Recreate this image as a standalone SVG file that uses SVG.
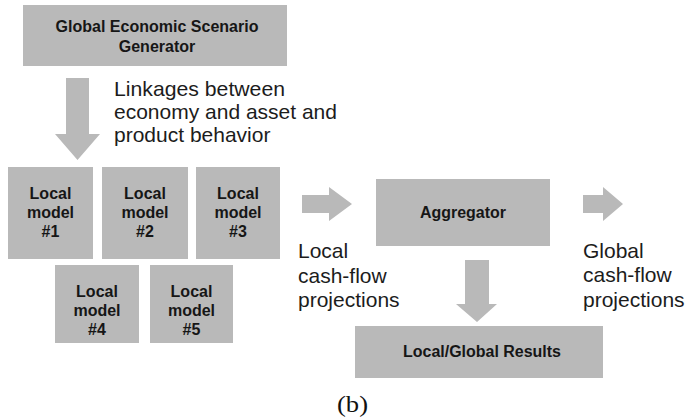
<svg xmlns="http://www.w3.org/2000/svg" width="687" height="419" viewBox="0 0 687 419">
  <style>
    .box { fill: #b9b9b9; }
    .arrow { fill: #b9b9b9; }
    .bold { font-family: "Liberation Sans", Arial, sans-serif; font-weight: bold; font-size: 16px; fill: #161616; text-anchor: middle; }
    .label { font-family: "Liberation Sans", Arial, sans-serif; font-size: 21px; fill: #1c1c1c; }
    .caption { font-family: "Liberation Serif", "Times New Roman", serif; font-size: 24px; fill: #111; }
  </style>
  <rect width="687" height="419" fill="#ffffff"/>

  <g id="generator">
    <rect class="box" x="23" y="5" width="264" height="61"/>
    <text class="bold" x="157" y="32" textLength="203" lengthAdjust="spacingAndGlyphs">Global Economic Scenario</text>
    <text class="bold" x="157" y="52">Generator</text>
  </g>

  <g id="local-model-1">
    <rect class="box" x="8" y="167" width="85" height="92"/>
    <text class="bold" x="50.5" y="199">Local</text>
    <text class="bold" x="50.5" y="218">model</text>
    <text class="bold" x="50.5" y="237">#1</text>
  </g>
  <g id="local-model-2">
    <rect class="box" x="102" y="167" width="86" height="92"/>
    <text class="bold" x="145" y="199">Local</text>
    <text class="bold" x="145" y="218">model</text>
    <text class="bold" x="145" y="237">#2</text>
  </g>
  <g id="local-model-3">
    <rect class="box" x="196" y="167" width="84" height="92"/>
    <text class="bold" x="238" y="199">Local</text>
    <text class="bold" x="238" y="218">model</text>
    <text class="bold" x="238" y="237">#3</text>
  </g>
  <g id="local-model-4">
    <rect class="box" x="55" y="265" width="84" height="78"/>
    <text class="bold" x="97" y="297">Local</text>
    <text class="bold" x="97" y="316">model</text>
    <text class="bold" x="97" y="335">#4</text>
  </g>
  <g id="local-model-5">
    <rect class="box" x="150" y="265" width="83" height="78"/>
    <text class="bold" x="191.5" y="297">Local</text>
    <text class="bold" x="191.5" y="316">model</text>
    <text class="bold" x="191.5" y="335">#5</text>
  </g>

  <g id="aggregator">
    <rect class="box" x="376" y="179" width="174" height="67"/>
    <text class="bold" x="463" y="218" textLength="86" lengthAdjust="spacingAndGlyphs">Aggregator</text>
  </g>

  <g id="results">
    <rect class="box" x="355" y="326" width="248" height="52"/>
    <text class="bold" x="482" y="357" textLength="158" lengthAdjust="spacingAndGlyphs">Local/Global Results</text>
  </g>

  <!-- block arrows linking the stages -->
  <g id="connectors">
    <polygon class="arrow" points="66,78 89,78 89,134 100,134 77.5,160 55,134 66,134"/>
    <polygon class="arrow" points="302,195 329,195 329,187 352,204 329,221 329,213 302,213"/>
    <polygon class="arrow" points="465,260 489,260 489,304 497,304 477,322 456,304 465,304"/>
    <polygon class="arrow" points="583,195 603,195 603,187 623,204 603,221 603,213 583,213"/>
  </g>

  <g id="labels">
    <text class="label" x="114" y="96" textLength="171" lengthAdjust="spacingAndGlyphs">Linkages between</text>
    <text class="label" x="114" y="119">economy and asset and</text>
    <text class="label" x="114" y="142">product behavior</text>
    <text class="label" x="298" y="258">Local</text>
    <text class="label" x="298" y="283">cash-flow</text>
    <text class="label" x="298" y="307">projections</text>
    <text class="label" x="583" y="258">Global</text>
    <text class="label" x="583" y="282">cash-flow</text>
    <text class="label" x="583" y="307">projections</text>
  </g>

  <text class="caption" x="337" y="412" textLength="31" lengthAdjust="spacingAndGlyphs">(b)</text>
</svg>
